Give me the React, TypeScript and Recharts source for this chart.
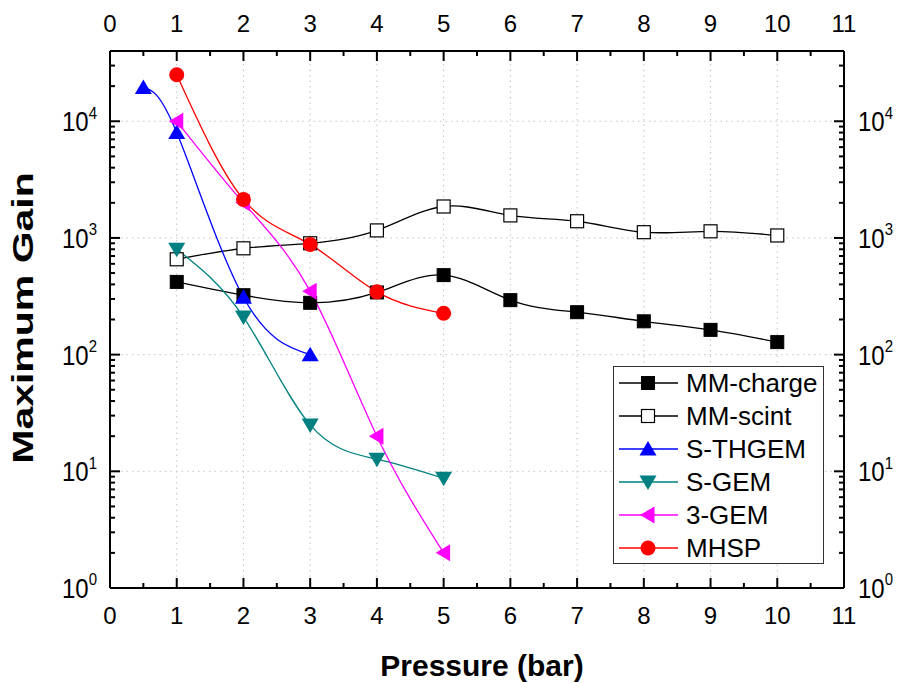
import { LineChart, Line, XAxis, YAxis, ReferenceLine, Legend, Label } from 'recharts'

// pressure (bar) and maximum gain per detector
const pressure = [1, 2, 3, 4, 5, 6, 7, 8, 9, 10]
const mmCharge = [420, 323, 278, 341, 480, 293, 231, 193, 163, 128]
const mmScint = [656, 815, 900, 1160, 1860, 1560, 1390, 1120, 1140, 1050]
const sThgemP = [0.5, 1, 2, 3]
const sThgem = [19500, 8000, 310, 100]
const sGemP = [1, 2, 3, 4, 5]
const sGem = [800, 210, 25, 12.7, 8.7]
const gem3P = [1, 2, 3, 4, 5]
const gem3 = [10000, 2000, 350, 20, 2]
const mhspP = [1, 2, 3, 4, 5]
const mhsp = [25000, 2140, 880, 345, 226]

const xTicks = [0, 0.5, 1, 1.5, 2, 2.5, 3, 3.5, 4, 4.5, 5, 5.5, 6, 6.5, 7, 7.5, 8, 8.5, 9, 9.5, 10, 10.5, 11]
const yTicks = [
  1, 2, 3, 4, 5, 6, 7, 8, 9,
  10, 20, 30, 40, 50, 60, 70, 80, 90,
  100, 200, 300, 400, 500, 600, 700, 800, 900,
  1000, 2000, 3000, 4000, 5000, 6000, 7000, 8000, 9000,
  10000, 20000, 30000,
]
const gridX = [1, 2, 3, 4, 5, 6, 7, 8, 9, 10]
const gridY = [10, 100, 1000, 10000]

type Kind = 'square' | 'open' | 'up' | 'down' | 'left' | 'circle'

const series: { name: string; x: number[]; y: number[]; color: string; kind: Kind }[] = [
  { name: 'MM-charge', x: pressure, y: mmCharge, color: '#000000', kind: 'square' },
  { name: 'MM-scint', x: pressure, y: mmScint, color: '#000000', kind: 'open' },
  { name: 'S-THGEM', x: sThgemP, y: sThgem, color: '#0000ff', kind: 'up' },
  { name: 'S-GEM', x: sGemP, y: sGem, color: '#008080', kind: 'down' },
  { name: '3-GEM', x: gem3P, y: gem3, color: '#ff00ff', kind: 'left' },
  { name: 'MHSP', x: mhspP, y: mhsp, color: '#ff0000', kind: 'circle' },
]

const FONT = '"Liberation Sans", Arial, sans-serif'

function Marker({ kind, cx, cy, color }: { kind: Kind; cx: number; cy: number; color: string }) {
  switch (kind) {
    case 'square':
      return <rect x={cx - 6.5} y={cy - 6.5} width={13} height={13} fill="#000" stroke="#000" />
    case 'open':
      return <rect x={cx - 6.5} y={cy - 6.5} width={13} height={13} fill="#fff" stroke="#000" strokeWidth={1.2} />
    case 'up':
      return <polygon points={`${cx},${cy - 8} ${cx - 8.5},${cy + 6.5} ${cx + 8.5},${cy + 6.5}`} fill={color} />
    case 'down':
      return <polygon points={`${cx},${cy + 8} ${cx - 8.5},${cy - 6.5} ${cx + 8.5},${cy - 6.5}`} fill={color} />
    case 'left':
      return <polygon points={`${cx - 8},${cy} ${cx + 6.5},${cy - 8.5} ${cx + 6.5},${cy + 8.5}`} fill={color} />
    default:
      return <circle cx={cx} cy={cy} r={7.5} fill={color} />
  }
}

function XTick(props: any) {
  const { x, y, payload, side } = props
  const v = payload.value
  const major = Number.isInteger(v)
  const dir = side === 'bottom' ? -1 : 1
  return (
    <g>
      <line x1={x} x2={x} y1={y} y2={y + dir * (major ? 10 : 5)} stroke="#000" strokeWidth={2} />
      {major && (
        <text x={x} y={side === 'bottom' ? y + 36 : y - 19} textAnchor="middle" fontSize={24} fontFamily={FONT} fill="#000">
          {v}
        </text>
      )}
    </g>
  )
}

function YTick(props: any) {
  const { x, y, payload, side } = props
  const lg = Math.log10(payload.value)
  const e = Math.round(lg)
  const major = Math.abs(lg - e) < 1e-6
  const dir = side === 'left' ? 1 : -1
  const tx = side === 'left' ? x - 13 : x + 14
  return (
    <g>
      <line x1={x} x2={x + dir * (major ? 10 : 5)} y1={y} y2={y} stroke="#000" strokeWidth={2} />
      {major && (
        <text
          transform={`translate(${tx}, ${y + 10}) scale(1, 1.15)`}
          textAnchor={side === 'left' ? 'end' : 'start'}
          fontSize={24}
          fontFamily={FONT}
          fill="#000"
        >
          10<tspan dy={-11} fontSize={15}>{e}</tspan>
        </text>
      )}
    </g>
  )
}

function LegendBox() {
  return (
    <svg width={211} height={198} style={{ display: 'block' }}>
      <rect x={0.5} y={0.5} width={210} height={197} fill="#fff" stroke="#333" strokeWidth={1} />
      {series.map((s, i) => {
        const cy = 17 + i * 33
        return (
          <g key={s.name}>
            <line x1={6} x2={65} y1={cy} y2={cy} stroke={s.color} strokeWidth={1.3} />
            <Marker kind={s.kind} cx={35} cy={cy} color={s.color} />
            <text x={73} y={cy + 9} fontSize={26} fontFamily={FONT} fill="#000">
              {s.name}
            </text>
          </g>
        )
      })}
    </svg>
  )
}

export default function App() {
  return (
    <div style={{ position: 'absolute', left: 0, top: 0, width: 901, height: 683, background: '#fff' }}>
      <LineChart width={901} height={683} margin={{ top: 0, right: 0, bottom: 0, left: 0 }}>
        <XAxis
          xAxisId="b"
          dataKey="x"
          type="number"
          domain={[0, 11]}
          ticks={xTicks}
          interval={0}
          allowDataOverflow
          height={95}
          tickSize={0}
          tickMargin={0}
          tickLine={false}
          axisLine={{ stroke: '#000', strokeWidth: 2 }}
          tick={(p: any) => <XTick {...p} side="bottom" />}
        >
          <Label
            content={() => (
              <text x={482} y={676} textAnchor="middle" fontSize={30} fontWeight="bold" fontFamily={FONT} fill="#000">
                Pressure (bar)
              </text>
            )}
          />
        </XAxis>
        <XAxis
          xAxisId="t"
          orientation="top"
          dataKey="x"
          type="number"
          domain={[0, 11]}
          ticks={xTicks}
          interval={0}
          allowDataOverflow
          height={51}
          tickSize={0}
          tickMargin={0}
          tickLine={false}
          axisLine={{ stroke: '#000', strokeWidth: 2 }}
          tick={(p: any) => <XTick {...p} side="top" />}
        />
        <YAxis
          yAxisId="l"
          type="number"
          scale="log"
          domain={[1, 40000]}
          ticks={yTicks}
          interval={0}
          allowDataOverflow
          width={110}
          tickSize={0}
          tickMargin={0}
          tickLine={false}
          axisLine={{ stroke: '#000', strokeWidth: 2 }}
          tick={(p: any) => <YTick {...p} side="left" />}
        >
          <Label
            content={() => (
              <text
                transform="translate(33, 318) rotate(-90) scale(1, 0.7)"
                textAnchor="middle"
                fontSize={41}
                fontWeight="bold"
                fontFamily={FONT}
                fill="#000"
              >
                Maximum Gain
              </text>
            )}
          />
        </YAxis>
        <YAxis
          yAxisId="r"
          orientation="right"
          type="number"
          scale="log"
          domain={[1, 40000]}
          ticks={yTicks}
          interval={0}
          allowDataOverflow
          width={57}
          tickSize={0}
          tickMargin={0}
          tickLine={false}
          axisLine={{ stroke: '#000', strokeWidth: 2 }}
          tick={(p: any) => <YTick {...p} side="right" />}
        />

        {gridX.map((g) => (
          <ReferenceLine key={'gx' + g} x={g} xAxisId="b" yAxisId="l" stroke="#c4c4c4" strokeDasharray="1.5 4" />
        ))}
        {gridY.map((g) => (
          <ReferenceLine key={'gy' + g} y={g} xAxisId="b" yAxisId="l" stroke="#c4c4c4" strokeDasharray="1.5 4" />
        ))}

        {series.map((s) => (
          <Line
            key={s.name}
            xAxisId="b"
            yAxisId="l"
            data={s.x.map((x, i) => ({ x, y: s.y[i] }))}
            dataKey="y"
            name={s.name}
            type="natural"
            stroke={s.color}
            strokeWidth={1.3}
            isAnimationActive={false}
            dot={(p: any) => <Marker key={s.name + p.index} kind={s.kind} cx={p.cx} cy={p.cy} color={s.color} />}
            activeDot={false}
          />
        ))}

        <Legend
          layout="vertical"
          align="center"
          verticalAlign="middle"
          wrapperStyle={{ left: 613, top: 366, width: 211, height: 198 }}
          content={() => <LegendBox />}
        />
      </LineChart>
    </div>
  )
}
